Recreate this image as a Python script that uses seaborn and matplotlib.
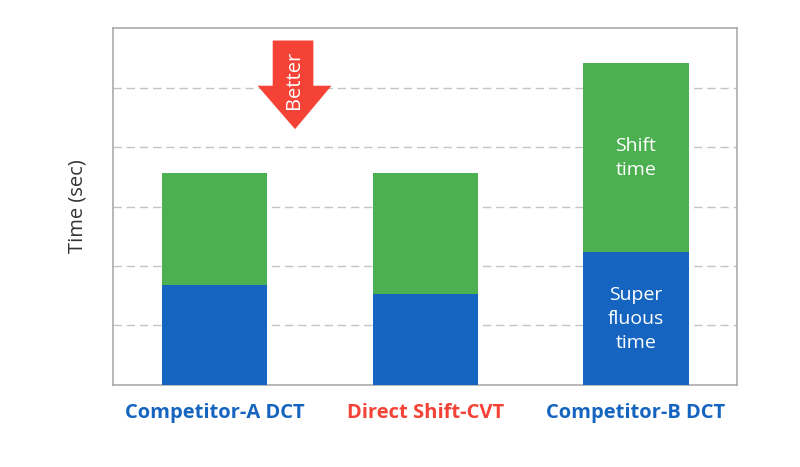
import matplotlib
matplotlib.use("Agg")
import matplotlib.pyplot as plt
from matplotlib.patches import Polygon
import seaborn as sns
import pandas as pd

categories = ["Competitor-A DCT", "Direct Shift-CVT", "Competitor-B DCT"]
superfluous_time = [1.68, 1.53, 2.23]
shift_time = [1.89, 2.04, 3.18]
label_colors = ["#1565C0", "#F44336", "#1565C0"]

total_time = [a + b for a, b in zip(superfluous_time, shift_time)]
df = pd.DataFrame({"cat": categories, "sup": superfluous_time, "total": total_time})

sns.set_theme(style="white")
plt.rcParams["font.family"] = ["Open Sans", "DejaVu Sans"]

fig = plt.figure(figsize=(8, 4.67), dpi=100)
ax = fig.add_axes([0.141, 0.1756, 0.78, 0.7644])

green = "#4CAF50"
blue = "#1565C0"
sns.barplot(data=df, x="cat", y="total", color=green, width=0.5, saturation=1, ax=ax,
            zorder=3, linewidth=0, edgecolor="none")
sns.barplot(data=df, x="cat", y="sup", color=blue, width=0.5, saturation=1, ax=ax,
            zorder=3, linewidth=0, edgecolor="none")

ax.set_ylim(0, 6)
ax.set_xlim(-0.483, 2.479)
ax.set_yticks([1, 2, 3, 4, 5])
ax.yaxis.grid(True, linestyle=(0, (6, 3.5)), color="#C4C4C4", linewidth=1, zorder=0)
ax.set_axisbelow(True)
ax.tick_params(axis="y", left=False, labelleft=False)
ax.tick_params(axis="x", bottom=False, pad=7)
for s in ax.spines.values():
    s.set_color("#AAAAAA")
    s.set_linewidth(1.2)

ax.set_xlabel("")
ax.set_ylabel("Time (sec)", fontsize=14.5, color="#333333", labelpad=18)
ax.set_xticks(range(len(categories)))
ax.set_xticklabels(categories, fontsize=14.5, fontweight="bold")
for lbl, c in zip(ax.get_xticklabels(), label_colors):
    lbl.set_color(c)

# in-bar labels on last bar
ax.text(2, 3.82, "Shift\ntime", color="white",
        ha="center", va="center", fontsize=14, linespacing=1.45, zorder=5)
ax.text(2, 1.11, "Super\nfluous\ntime", color="white",
        ha="center", va="center", fontsize=14, linespacing=1.4, zorder=5)

# "Better" arrow
arrow = Polygon([(0.276, 5.79), (0.469, 5.79), (0.469, 5.03), (0.555, 5.03),
                 (0.382, 4.30), (0.204, 5.03), (0.276, 5.03)],
                closed=True, facecolor="#F44336", edgecolor="none", zorder=4)
ax.add_patch(arrow)
ax.text(0.379, 5.13, "Better", rotation=90, color="white", ha="center", va="center",
        fontsize=14.5, zorder=5)

fig.savefig("out.png", dpi=100, facecolor="white")
